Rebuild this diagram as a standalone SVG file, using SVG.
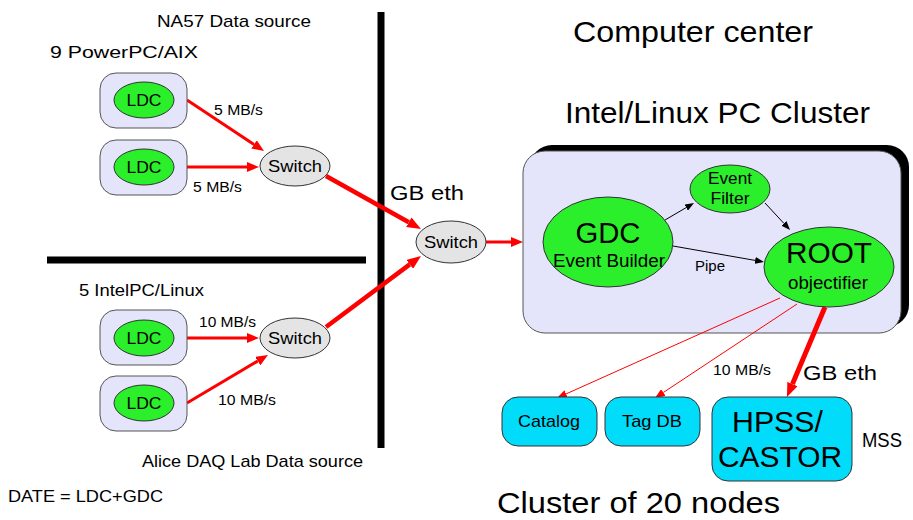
<svg xmlns="http://www.w3.org/2000/svg" width="913" height="520" viewBox="0 0 913 520">
  <defs>
    <!-- arrowheads: drawn forward from the end of each line -->
    <marker id="headBig" viewBox="0 0 14 11" refX="0" refY="5.5" markerWidth="14" markerHeight="11" markerUnits="userSpaceOnUse" orient="auto">
      <path d="M0,0 L14,5.5 L0,11 z" fill="#ff0000"/>
    </marker>
    <marker id="headMid" viewBox="0 0 12 10" refX="0" refY="5" markerWidth="12" markerHeight="10" markerUnits="userSpaceOnUse" orient="auto">
      <path d="M0,0 L12,5 L0,10 z" fill="#ff0000"/>
    </marker>
    <marker id="headThin" viewBox="0 0 10 8" refX="0" refY="4" markerWidth="10" markerHeight="8" markerUnits="userSpaceOnUse" orient="auto">
      <path d="M0,0 L10,4 L0,8 z" fill="#ff0000"/>
    </marker>
    <marker id="headBlack" viewBox="0 0 9 7" refX="0" refY="3.5" markerWidth="9" markerHeight="7" markerUnits="userSpaceOnUse" orient="auto">
      <path d="M0,0 L9,3.5 L0,7 z" fill="#000000"/>
    </marker>
  </defs>
  <style>
    text { font-family: "Liberation Sans", Arial, Helvetica, sans-serif; fill: #000; }
    .ldcbox { fill: #e4e4fa; stroke: #555; stroke-width: 1; }
    .green { fill: #2bef2b; stroke: #333; stroke-width: 1; }
    .switch { fill: #e4e4e4; stroke: #333; stroke-width: 1; }
    .store { fill: #00dcfa; stroke: #333; stroke-width: 1; }
    .wall { stroke: #000; stroke-width: 7; }
    .red { stroke: #ff0000; fill: none; }
    .blk { stroke: #000; stroke-width: 1; fill: none; }
    .mid { text-anchor: middle; }
  </style>

  <rect width="913" height="520" fill="#ffffff"/>

  <!-- separators -->
  <g id="separators">
    <line class="wall" x1="381" y1="12" x2="381" y2="448"/>
    <line class="wall" x1="47" y1="260" x2="366" y2="260"/>
  </g>

  <!-- cluster frame with dark offset shadow -->
  <g id="cluster">
    <rect x="530" y="145" width="379" height="182" rx="22" fill="#000"/>
    <rect x="523" y="151" width="378" height="182" rx="22" fill="#e4e4fa" stroke="#555" stroke-width="1"/>
  </g>

  <!-- connectors -->
  <g id="connectors">
    <line class="red" stroke-width="3" x1="187" y1="100" x2="254" y2="144.4" marker-end="url(#headMid)"/>
    <line class="red" stroke-width="3" x1="187" y1="167" x2="247" y2="167" marker-end="url(#headMid)"/>
    <line class="red" stroke-width="3" x1="187" y1="338" x2="247" y2="338" marker-end="url(#headMid)"/>
    <line class="red" stroke-width="3" x1="187" y1="403" x2="257.7" y2="361.1" marker-end="url(#headMid)"/>
    <line class="red" stroke-width="4.5" x1="326" y1="176" x2="408.8" y2="222.2" marker-end="url(#headBig)"/>
    <line class="red" stroke-width="4.5" x1="326" y1="327" x2="409.8" y2="264.4" marker-end="url(#headBig)"/>
    <line class="red" stroke-width="3" x1="486" y1="242" x2="511" y2="242" marker-end="url(#headMid)"/>
    <line class="blk" x1="665" y1="220" x2="686.2" y2="207.6" marker-end="url(#headBlack)"/>
    <line class="blk" x1="765" y1="203" x2="783.9" y2="223.4" marker-end="url(#headBlack)"/>
    <line class="blk" x1="673" y1="246" x2="755.1" y2="260.4" marker-end="url(#headBlack)"/>
    <line class="red" stroke-width="1" x1="780" y1="298" x2="566.1" y2="393.9" marker-end="url(#headThin)"/>
    <line class="red" stroke-width="1" x1="797" y1="304" x2="663.3" y2="392.5" marker-end="url(#headThin)"/>
    <line class="red" stroke-width="5" x1="825" y1="307" x2="792.4" y2="384.1" marker-end="url(#headBig)"/>
  </g>

  <!-- NA57 local data concentrators -->
  <g id="ldc1">
    <rect class="ldcbox" x="100" y="73" width="87" height="55" rx="16"/>
    <ellipse class="green" cx="144" cy="100" rx="30" ry="18"/>
    <text class="mid" x="144" y="106" font-size="17" textLength="35" lengthAdjust="spacingAndGlyphs">LDC</text>
  </g>
  <g id="ldc2">
    <rect class="ldcbox" x="100" y="140" width="87" height="55" rx="16"/>
    <ellipse class="green" cx="144" cy="167" rx="30" ry="18"/>
    <text class="mid" x="144" y="173" font-size="17" textLength="35" lengthAdjust="spacingAndGlyphs">LDC</text>
  </g>
  <g id="switch1">
    <ellipse class="switch" cx="295" cy="166" rx="35" ry="20"/>
    <text class="mid" x="295" y="172" font-size="17" textLength="54" lengthAdjust="spacingAndGlyphs">Switch</text>
  </g>

  <!-- Alice DAQ lab local data concentrators -->
  <g id="ldc3">
    <rect class="ldcbox" x="100" y="310" width="87" height="55" rx="16"/>
    <ellipse class="green" cx="144" cy="338" rx="30" ry="18"/>
    <text class="mid" x="144" y="344" font-size="17" textLength="35" lengthAdjust="spacingAndGlyphs">LDC</text>
  </g>
  <g id="ldc4">
    <rect class="ldcbox" x="100" y="376" width="87" height="55" rx="16"/>
    <ellipse class="green" cx="144" cy="403" rx="30" ry="18"/>
    <text class="mid" x="144" y="409" font-size="17" textLength="35" lengthAdjust="spacingAndGlyphs">LDC</text>
  </g>
  <g id="switch2">
    <ellipse class="switch" cx="295" cy="338" rx="35" ry="20"/>
    <text class="mid" x="295" y="344" font-size="17" textLength="54" lengthAdjust="spacingAndGlyphs">Switch</text>
  </g>

  <!-- central switch -->
  <g id="switch3">
    <ellipse class="switch" cx="451" cy="242" rx="35" ry="21"/>
    <text class="mid" x="451" y="248" font-size="17" textLength="54" lengthAdjust="spacingAndGlyphs">Switch</text>
  </g>

  <!-- cluster processes -->
  <g id="gdc">
    <ellipse class="green" cx="608" cy="242" rx="65" ry="45"/>
    <text class="mid" x="608" y="243" font-size="29" textLength="65" lengthAdjust="spacingAndGlyphs">GDC</text>
    <text class="mid" x="609" y="267" font-size="18" textLength="112" lengthAdjust="spacingAndGlyphs">Event Builder</text>
  </g>
  <g id="filter">
    <ellipse class="green" cx="730" cy="189" rx="40" ry="24"/>
    <text class="mid" x="730" y="184" font-size="16" textLength="44" lengthAdjust="spacingAndGlyphs">Event</text>
    <text class="mid" x="730" y="204" font-size="16" textLength="39" lengthAdjust="spacingAndGlyphs">Filter</text>
  </g>
  <g id="root">
    <ellipse class="green" cx="829" cy="267" rx="65" ry="40"/>
    <text class="mid" x="829" y="263" font-size="29" textLength="86" lengthAdjust="spacingAndGlyphs">ROOT</text>
    <text class="mid" x="828" y="289" font-size="18" textLength="80" lengthAdjust="spacingAndGlyphs">objectifier</text>
  </g>

  <!-- storage -->
  <g id="catalog">
    <rect class="store" x="502" y="397" width="95" height="49" rx="16"/>
    <text class="mid" x="549" y="427" font-size="17" textLength="62" lengthAdjust="spacingAndGlyphs">Catalog</text>
  </g>
  <g id="tagdb">
    <rect class="store" x="605" y="397" width="95" height="49" rx="16"/>
    <text class="mid" x="652" y="427" font-size="17" textLength="60" lengthAdjust="spacingAndGlyphs">Tag DB</text>
  </g>
  <g id="hpss">
    <rect class="store" x="712" y="397" width="140" height="84" rx="16"/>
    <text x="732" y="432" font-size="29" textLength="91" lengthAdjust="spacingAndGlyphs">HPSS/</text>
    <text x="718" y="467" font-size="29" textLength="124" lengthAdjust="spacingAndGlyphs">CASTOR</text>
  </g>

  <!-- titles and labels, drawn last so nothing covers them -->
  <g id="labels">
    <text x="157" y="27" font-size="17" textLength="154" lengthAdjust="spacingAndGlyphs">NA57 Data source</text>
    <text x="50" y="58" font-size="17" textLength="148" lengthAdjust="spacingAndGlyphs">9 PowerPC/AIX</text>
    <text x="79" y="296" font-size="17" textLength="125" lengthAdjust="spacingAndGlyphs">5 IntelPC/Linux</text>
    <text x="142" y="467" font-size="17" textLength="221" lengthAdjust="spacingAndGlyphs">Alice DAQ Lab Data source</text>
    <text x="8" y="502" font-size="17" textLength="155" lengthAdjust="spacingAndGlyphs">DATE = LDC+GDC</text>
    <text x="573" y="42" font-size="30" textLength="240" lengthAdjust="spacingAndGlyphs">Computer center</text>
    <text x="565" y="123" font-size="30" textLength="305" lengthAdjust="spacingAndGlyphs">Intel/Linux PC Cluster</text>
    <text x="497" y="513" font-size="30" textLength="283" lengthAdjust="spacingAndGlyphs">Cluster of 20 nodes</text>
    <text x="390" y="200" font-size="20" textLength="74" lengthAdjust="spacingAndGlyphs">GB eth</text>
    <text x="803" y="380" font-size="20" textLength="74" lengthAdjust="spacingAndGlyphs">GB eth</text>
    <text x="862" y="447" font-size="20" textLength="40" lengthAdjust="spacingAndGlyphs">MSS</text>
    <text x="214" y="115" font-size="15" textLength="49" lengthAdjust="spacingAndGlyphs">5 MB/s</text>
    <text x="193" y="192" font-size="15" textLength="49" lengthAdjust="spacingAndGlyphs">5 MB/s</text>
    <text x="199" y="327" font-size="15" textLength="57" lengthAdjust="spacingAndGlyphs">10 MB/s</text>
    <text x="218" y="405" font-size="15" textLength="58" lengthAdjust="spacingAndGlyphs">10 MB/s</text>
    <text x="713" y="375" font-size="15" textLength="58" lengthAdjust="spacingAndGlyphs">10 MB/s</text>
    <text x="695" y="271" font-size="14" textLength="30" lengthAdjust="spacingAndGlyphs">Pipe</text>
  </g>
</svg>
